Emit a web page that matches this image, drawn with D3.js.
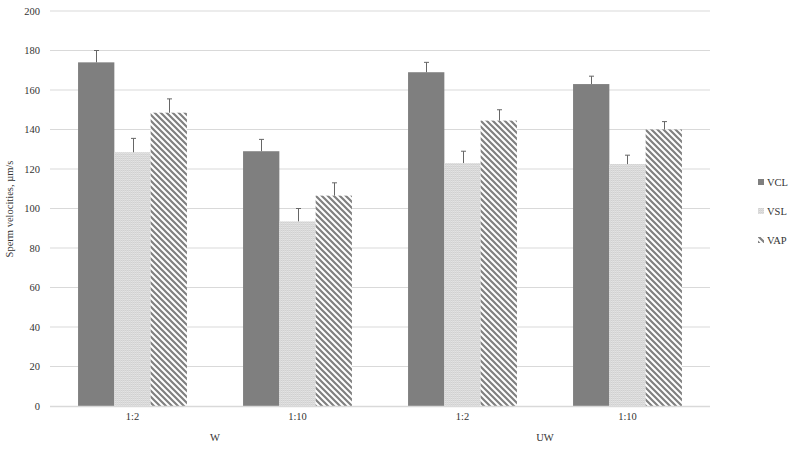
<!DOCTYPE html>
<html><head><meta charset="utf-8">
<script src="https://cdn.jsdelivr.net/npm/d3@7"></script>
<style>body{margin:0;background:#fff}svg{display:block}text{font-family:"Liberation Serif","DejaVu Serif",serif;fill:#333}</style>
</head><body><svg id="c" width="792" height="449"></svg>
<script>
const categories = ["1:2","1:10","1:2","1:10"];
const groups = [{name:"W", from:0, to:1},{name:"UW", from:2, to:3}];
const seriesNames = ["VCL","VSL","VAP"];
const VCL = [174, 129, 169, 163];
const VSL = [128.5, 93.5, 123, 122.5];
const VAP = [148.5, 106.5, 144.5, 140];
const VCLerr = [6, 6, 5, 4];
const VSLerr = [7, 6.5, 6, 4.5];
const VAPerr = [7, 6.5, 5.5, 4];
const yTicks = [0,20,40,60,80,100,120,140,160,180,200];

const values = [VCL, VSL, VAP];
const errs = [VCLerr, VSLerr, VAPerr];

const svg = d3.select("#c");
const defs = svg.append("defs");
const pv = defs.append("pattern").attr("id","pVSL").attr("patternUnits","userSpaceOnUse").attr("width",2).attr("height",2);
pv.append("rect").attr("width",2).attr("height",2).attr("fill","#e4e4e4");
pv.append("rect").attr("width",2).attr("height",1).attr("fill","#d0d0d0");
pv.append("rect").attr("width",1).attr("height",2).attr("fill","#dadada");
const pa = defs.append("pattern").attr("id","pVAP").attr("patternUnits","userSpaceOnUse").attr("width",6).attr("height",6);
pa.append("rect").attr("width",6).attr("height",6).attr("fill","#fff");
pa.append("path").attr("d","M-1,-1 L7,7 M-7,-1 L1,7 M5,-1 L13,7").attr("stroke","#808080").attr("stroke-width",2.2);
const fills = ["#7f7f7f","url(#pVSL)","url(#pVAP)"];

const L = 50, R = 710, T = 11, B = 406;
const x0 = d3.scaleBand().domain(d3.range(categories.length)).range([L,R]).paddingInner(0.34).paddingOuter(0.17);
const x1 = d3.scaleBand().domain(d3.range(3)).range([0,x0.bandwidth()]);
const y = d3.scaleLinear().domain([0,200]).range([B,T]);

// grid
svg.append("g").selectAll("line").data(yTicks.filter(d=>d>0)).join("line")
  .attr("x1",L).attr("x2",R).attr("y1",d=>y(d)).attr("y2",d=>y(d))
  .attr("stroke","#d9d9d9").attr("stroke-width",1);

// y axis
const ya = svg.append("g").attr("transform",`translate(${L},0)`).call(d3.axisLeft(y).tickValues(yTicks).tickSize(0).tickPadding(10));
ya.select(".domain").remove();
ya.selectAll("text").attr("font-size",10.5).style("font-family","Liberation Serif, serif").attr("fill","#333");

// bars
for (let s=0;s<3;s++){
  const g = svg.append("g");
  g.selectAll("rect").data(values[s]).join("rect")
    .attr("x",(d,i)=>x0(i)+x1(s)).attr("width",x1.bandwidth())
    .attr("y",d=>y(d)).attr("height",d=>B-y(d)).attr("fill",fills[s]);
  const e = svg.append("g").attr("stroke","#666").attr("stroke-width",1);
  values[s].forEach((v,i)=>{
    const cx = Math.round(x0(i)+x1(s)+x1.bandwidth()/2)+0.5;
    e.append("line").attr("x1",cx).attr("x2",cx).attr("y1",y(v)).attr("y2",y(v+errs[s][i]));
    e.append("line").attr("x1",cx-2.5).attr("x2",cx+2.5).attr("y1",y(v+errs[s][i])).attr("y2",y(v+errs[s][i]));
  });
}

// baseline
svg.append("line").attr("x1",L).attr("x2",R).attr("y1",B+0.5).attr("y2",B+0.5).attr("stroke","#d9d9d9").attr("stroke-width",1.5);

// x axis labels
const xa = svg.append("g").attr("transform",`translate(0,${B})`).call(d3.axisBottom(x0).tickFormat(i=>categories[i]).tickSize(0).tickPadding(7));
xa.select(".domain").remove();
xa.selectAll("text").attr("font-size",10.5).style("font-family","Liberation Serif, serif").attr("fill","#333");

// group labels
const step = x0.step();
groups.forEach(g=>{
  const gx = (x0(g.from) - x0.paddingInner()*step/2 + x0(g.to)+x0.bandwidth()+x0.paddingInner()*step/2)/2;
  svg.append("text").attr("x",gx).attr("y",441).attr("text-anchor","middle").attr("font-size",10.5).text(g.name);
});

// y title
svg.append("text").attr("transform","translate(13,209) rotate(-90)").attr("text-anchor","middle").attr("font-size",10.5).text("Sperm velocities, µm/s");

// legend
const lg = svg.append("g");
seriesNames.forEach((n,i)=>{
  const ly = 182 + i*29;
  lg.append("rect").attr("x",758).attr("y",ly-3).attr("width",6).attr("height",6).attr("fill",fills[i]);
  lg.append("text").attr("x",767).attr("y",ly+3.5).attr("font-size",10.5).text(n);
});
</script></body></html>
